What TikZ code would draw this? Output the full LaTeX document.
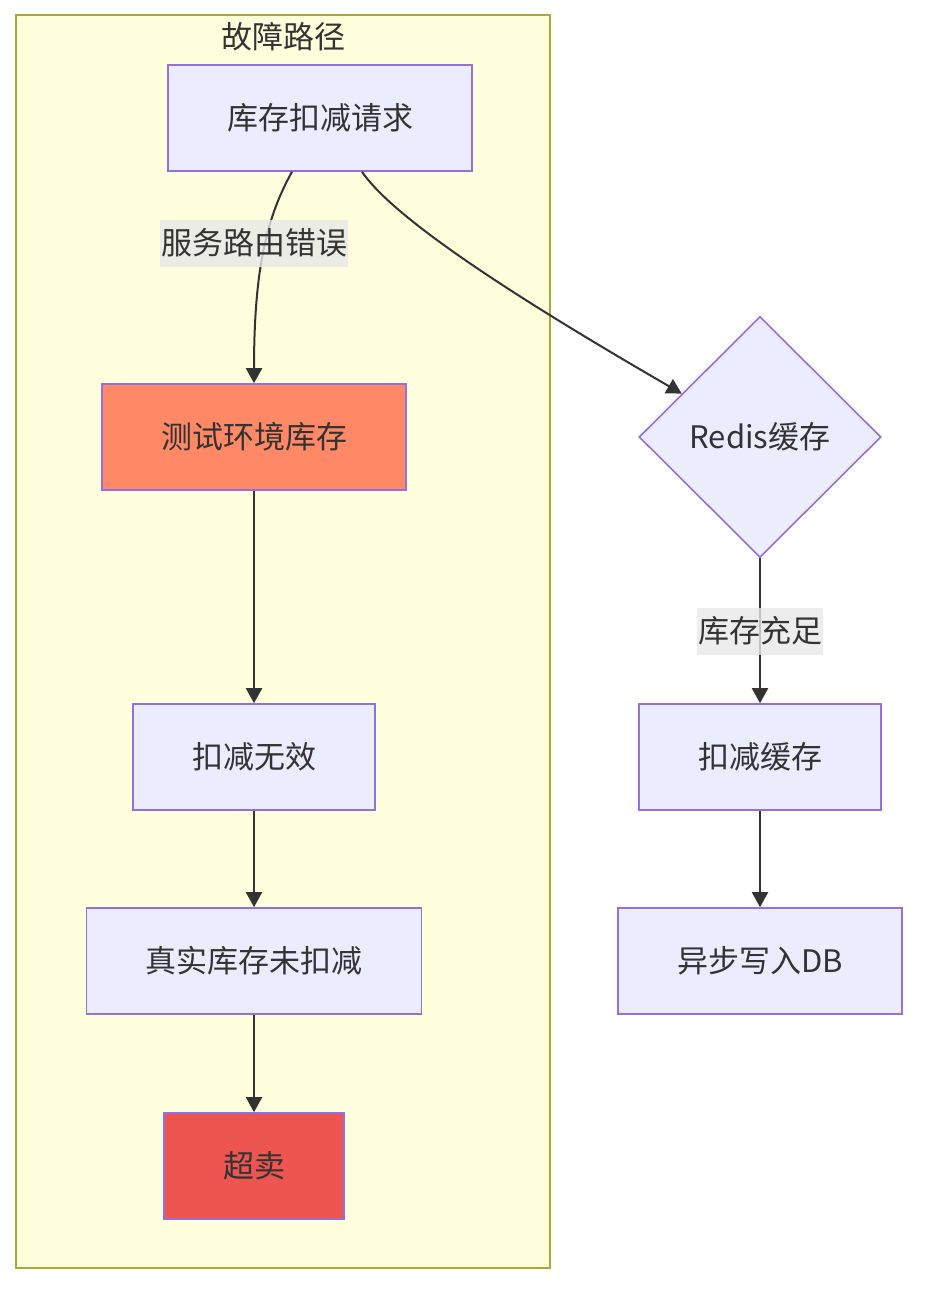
\documentclass[tikz,border=0pt]{standalone}
\usepackage{fontspec}
\setmainfont{Noto Sans CJK SC}
\usetikzlibrary{calc,arrows.meta,shapes.geometric}
\definecolor{nodefill}{HTML}{ECECFF}
\definecolor{nodeline}{HTML}{9370DB}
\definecolor{clusterfill}{HTML}{FFFFDE}
\definecolor{clusterline}{HTML}{AAAA33}
\definecolor{edgeline}{HTML}{333333}
\definecolor{labelbg}{HTML}{E8E8E8}
\definecolor{testfill}{HTML}{FF8866}
\definecolor{oversold}{HTML}{EE5550}
\tikzset{
	stepbox/.style={draw=nodeline, fill=nodefill, line width=1.6pt, text=edgeline, inner xsep=59pt, minimum height=106pt},
	flow/.style={draw=edgeline, line width=2pt, -{Triangle[length=15pt,width=16pt]}},
	edgetext/.style={fill=labelbg, fill opacity=0.8, text opacity=1, text=edgeline, inner xsep=1pt, inner ysep=0pt, minimum height=47pt}
}

\begin{document}
\begin{tikzpicture}[x=1pt, y=-1pt, font=\fontsize{31}{36}\selectfont]
		%%%%% START %%%%%
		\useasboundingbox (0, 0) rectangle (932, 1308);
		
		\draw[fill=clusterfill, draw=clusterline, line width=1.6pt] (16, 15) rectangle (550, 1268);
		\node[text=edgeline] (title) at (283, 37) {故障路径};
		
		\node[stepbox] (req) at (320, 118) {库存扣减请求};
		\node[stepbox, fill=testfill] (testenv) at (254, 437) {测试环境库存};
		\node[stepbox] (noeffect) at (254, 757) {扣减无效};
		\node[stepbox] (realstock) at (254, 961) {真实库存未扣减};
		\node[stepbox, fill=oversold] (oversell) at (254, 1166) {超卖};
		
		\node[draw=nodeline, fill=nodefill, line width=1.6pt, text=edgeline, diamond, inner sep=0pt, minimum width=242pt, minimum height=241pt] (redis) at (760, 437) {Redis缓存};
		\node[stepbox] (cachecut) at (760, 757) {扣减缓存};
		\node[stepbox] (asyncdb) at (760, 961) {异步写入DB};
		
		\draw[flow] ($(req.south)+(-28, 0)$) .. controls (268, 215) and (254, 265) .. (testenv.north);
		\node[edgetext] (wrongroute) at (254, 243) {服务路由错误};
		\draw[flow] ($(req.south)+(42, 0)$) .. controls (395, 220) and (520, 300) .. (redis.151);
		
		\draw[flow] (testenv) -- (noeffect);
		\draw[flow] (noeffect) -- (realstock);
		\draw[flow] (realstock) -- (oversell);
		
		\draw[flow] (redis.south) -- (cachecut.north);
		\node[edgetext] (enough) at (760, 631) {库存充足};
		\draw[flow] (cachecut) -- (asyncdb);
		
		%%%%% END %%%%%
	\end{tikzpicture}
\end{document}
